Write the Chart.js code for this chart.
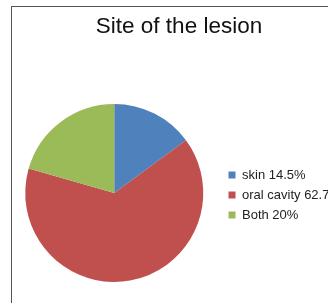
<!DOCTYPE html>
<html>
<head>
<meta charset="utf-8">
<script src="https://cdn.jsdelivr.net/npm/chart.js@4"></script>
<style>
  html, body { margin: 0; padding: 0; background: #fff; width: 328px; height: 303px; overflow: hidden; position: relative; }
  #frame { position: absolute; left: 11px; top: 6px; width: 400px; height: 400px; border-left: 1px solid #555; border-top: 1px solid #555; }
  #wrap { position: absolute; left: 7px; top: 0px; width: 344px; height: 303px; }
</style>
</head>
<body>
<div id="frame"></div>
<div id="wrap"><canvas id="c" width="344" height="303"></canvas></div>
<script>
const chartTitle = 'Site of the lesion';
const categories = ['skin', 'oral cavity', 'Both'];
const values = [14.5, 62.7, 20];
const colors = ['#4F81BD', '#C0504D', '#9BBB59'];
const legendLabels = categories.map((c, i) => c + ' ' + values[i] + '%');

new Chart(document.getElementById('c'), {
  type: 'pie',
  data: {
    labels: legendLabels,
    datasets: [{
      data: values,
      backgroundColor: colors,
      borderWidth: 0
    }]
  },
  options: {
    responsive: false,
    animation: false,
    layout: { padding: { left: 0, right: 0, top: 0, bottom: 21 } },
    plugins: {
      tooltip: { enabled: false },
      title: {
        display: true,
        text: chartTitle,
        color: '#111',
        font: { family: '"Liberation Sans", Arial, sans-serif', size: 22.5, weight: 'normal' },
        padding: { top: 13.5, bottom: 63.5 }
      },
      legend: {
        position: 'right',
        fullSize: false,
        title: {
          display: true,
          text: '',
          font: { size: 1, lineHeight: 1 },
          padding: { top: 1.5, bottom: 1.5 }
        },
        labels: {
          boxWidth: 7,
          boxHeight: 7,
          padding: 7,
          color: '#222',
          font: { family: '"Liberation Sans", Arial, sans-serif', size: 13 }
        }
      }
    }
  }
});
</script>
</body>
</html>
